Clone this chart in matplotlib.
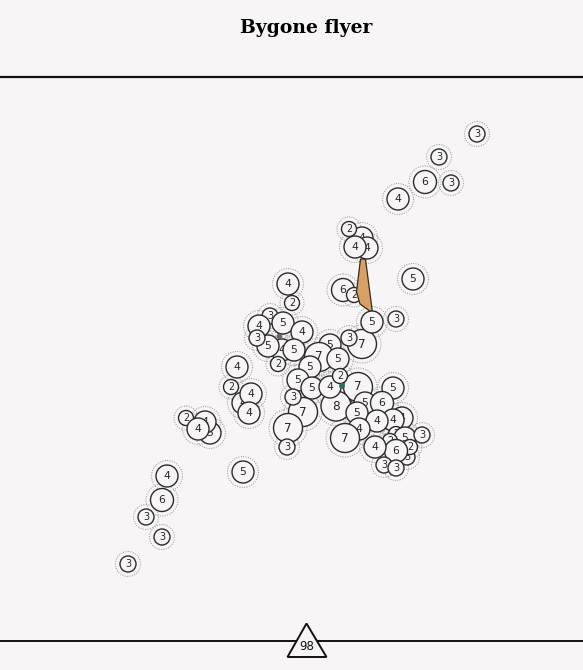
import matplotlib.pyplot as plt
import matplotlib.patches as mpatches

bg = "#f7f5f6"

# node positions (px) and labels, in drawing order
node_x = [343, 354,
          477, 439, 425, 451, 398,
          362, 367, 349, 355, 413,
          288, 292, 270, 259, 283, 302, 282, 294, 268, 257, 278,
          362, 349, 372, 396,
          330, 319, 338, 310,
          358, 336, 298, 312, 330, 340,
          303, 293, 288, 287,
          393, 365, 382, 357, 402, 393, 377, 359, 345,
          396, 405, 407, 422, 390, 410, 396, 375, 384, 396,
          237, 231, 243, 251, 249,
          210, 205, 186, 198,
          243, 167, 162, 146, 162, 128]
node_y = [290, 295,
          134, 157, 182, 183, 199,
          238, 248, 229, 247, 279,
          284, 303, 316, 326, 323, 332, 350, 350, 346, 338, 364,
          344, 338, 322, 319,
          345, 357, 359, 367,
          387, 406, 380, 388, 387, 376,
          412, 397, 428, 447,
          388, 403, 403, 413, 418, 420, 421, 429, 438,
          434, 438, 457, 435, 441, 447, 451, 447, 465, 468,
          367, 387, 403, 394, 413,
          433, 422, 418, 429,
          472, 476, 500, 517, 537, 564]
node_label = [6, 2,
              3, 3, 6, 3, 4,
              4, 4, 2, 4, 5,
              4, 2, 3, 4, 5, 4, 4, 5, 5, 3, 2,
              7, 3, 5, 3,
              5, 7, 5, 5,
              7, 8, 5, 5, 4, 2,
              7, 3, 7, 3,
              5, 5, 6, 5, 4, 4, 4, 4, 7,
              2, 5, 3, 3, 2, 2, 6, 4, 3, 3,
              4, 2, 4, 4, 4,
              5, 4, 2, 4,
              5, 4, 6, 3, 3, 3]

radius_for = {2: 7.5, 3: 8, 4: 11, 5: 11, 6: 11.5, 7: 14.5, 8: 15}

# tapered link (orange) and small hub dots
link_x = [360.5, 365.5, 372.5, 360, 356.5]
link_y = [259, 259, 313, 304, 292]
hub_x = [342, 279.5]
hub_y = [386, 336.5]
hub_color = ["#2e6b60", "#666666"]
edge_pairs = [((342, 386), (352, 402)), ((279.5, 336.5), (270, 316)),
              ((279.5, 336.5), (282, 350))]

title = "Bygone flyer"
count_text = "98"

fig = plt.figure(figsize=(5.83, 6.70), dpi=100, facecolor=bg)
ax = fig.add_axes([0, 0, 1, 1])
ax.set_facecolor(bg)
ax.set_xlim(0, 583)
ax.set_ylim(670, 0)
ax.axis("off")

# halos first
for x, y, lab in zip(node_x, node_y, node_label):
    r = radius_for[lab]
    ax.add_patch(mpatches.Circle((x, y), r + 4.5, fill=False, edgecolor="#a8a8a8",
                                 linestyle=(0, (1, 1.2)), linewidth=0.8, zorder=2))

for (a, b) in edge_pairs:
    ax.plot([a[0], b[0]], [a[1], b[1]], color="#333333", lw=0.8, zorder=3)

for i, (x, y, lab) in enumerate(zip(node_x, node_y, node_label)):
    r = radius_for[lab]
    z = 10 + i * 2
    ax.add_patch(mpatches.Circle((x, y), r, facecolor=bg, edgecolor="#2b2b2b",
                                 linewidth=1.0, zorder=z))
    ax.text(x, y, str(lab), ha="center", va="center", fontsize=5.2 + r * 0.23,
            color="#262626", zorder=z + 1)
    if i == 1:
        ax.add_patch(mpatches.Polygon(list(zip(link_x, link_y)), closed=True,
                                      facecolor="#d9a066", edgecolor="#3a2a1a",
                                      linewidth=0.9, zorder=z + 1.5))

for x, y, c in zip(hub_x, hub_y, hub_color):
    ax.add_patch(mpatches.Circle((x, y), 2.2, color=c, zorder=500))

# title and rules
ax.text(306.5, 28, title, ha="center", va="center", fontsize=13.5, fontweight="heavy",
        family="DejaVu Serif", color="#000000")
ax.plot([0, 583], [76.5, 76.5], color="#111111", lw=1.6, solid_capstyle="butt")
ax.plot([0, 583], [641, 641], color="#111111", lw=1.4, solid_capstyle="butt")

ax.add_patch(mpatches.Polygon([(306.5, 623.5), (287.5, 657), (326.5, 657)], closed=True,
                              facecolor=bg, edgecolor="#111111", linewidth=1.4, zorder=600))
ax.text(306.5, 646, count_text, ha="center", va="center", fontsize=8.5,
        color="#111111", zorder=601)

fig.savefig("out.png", dpi=100, facecolor=bg)
